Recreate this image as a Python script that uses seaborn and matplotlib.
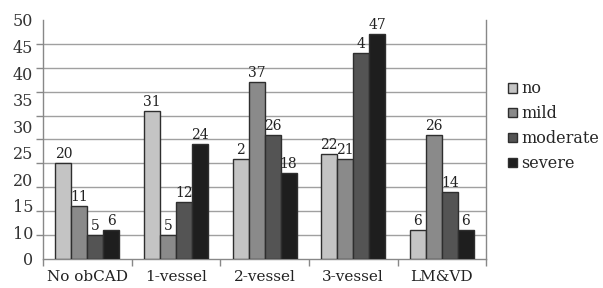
import numpy as np
import pandas as pd
import matplotlib
matplotlib.use("Agg")
import matplotlib.pyplot as plt
import seaborn as sns

categories = ["No obCAD", "1-vessel", "2-vessel", "3-vessel", "LM&VD"]
series = ["no", "mild", "moderate", "severe"]
no_vals = [20, 31, 21, 22, 6]
mild_vals = [11, 5, 37, 21, 26]
moderate_vals = [5, 12, 26, 43, 14]
severe_vals = [6, 24, 18, 47, 6]
# bar labels as printed in the picture (some are cut off there)
no_labels = ["20", "31", "2", "22", "6"]
mild_labels = ["11", "5", "37", "21", "26"]
moderate_labels = ["5", "12", "26", "4", "14"]
severe_labels = ["6", "24", "18", "47", "6"]
ytick_labels = ["0", "10", "15", "20", "25", "30", "35", "40", "45", "50"]

colors = ["#c4c4c4", "#8a8a8a", "#545454", "#1e1e1e"]

df = pd.DataFrame({
    "category": categories * 4,
    "series": np.repeat(series, len(categories)),
    "value": no_vals + mild_vals + moderate_vals + severe_vals,
})
labels = [no_labels, mild_labels, moderate_labels, severe_labels]

sns.set_style("white")
plt.rcParams["font.family"] = ["DejaVu Serif"]

fig = plt.figure(figsize=(6.03, 2.88), dpi=100)
ax = fig.add_axes([0.0713, 0.1007, 0.735, 0.83])

sns.barplot(data=df, x="category", y="value", hue="series", order=categories,
            hue_order=series, palette=colors, width=0.72, edgecolor="#2e2e2e",
            linewidth=1.0, ax=ax, zorder=3)

for cont, labs in zip(ax.containers, labels):
    ax.bar_label(cont, labels=labs, padding=1.5, fontsize=10, color="#222222")

ax.set_ylim(0, 50)
ax.set_xlim(-0.5, len(categories) - 0.5)
ax.set_yticks(np.linspace(0, 50, 10), labels=ytick_labels)
ax.set_yticks(np.arange(0, 51, 5), minor=True)
ax.set_xticks(np.arange(-0.5, len(categories), 1.0), minor=True)
ax.tick_params(axis="y", which="major", length=0, labelsize=11.5, colors="#333333", pad=7)
ax.tick_params(axis="y", which="minor", length=5, width=1, color="#888888", direction="out", left=True)
ax.tick_params(axis="x", which="major", length=0, labelsize=11, colors="#222222", pad=8)
ax.tick_params(axis="x", which="minor", length=5, width=1, color="#888888", direction="out", bottom=True)
ax.grid(False)
ax.grid(axis="y", which="minor", color="#a0a0a0", linewidth=1, zorder=0)
ax.set_axisbelow(True)

for side in ["left", "bottom", "right"]:
    ax.spines[side].set_visible(True)
    ax.spines[side].set_color("#888888")
    ax.spines[side].set_linewidth(1)
ax.spines["top"].set_visible(False)

ax.set_xlabel("")
ax.set_ylabel("")

handles, leg_labels = ax.get_legend_handles_labels()
ax.legend(handles, leg_labels, loc="center left", bbox_to_anchor=(1.035, 0.555),
          frameon=False, fontsize=11.5, handlelength=0.55, handleheight=0.55,
          handletextpad=0.25, labelspacing=0.5, borderaxespad=0)

fig.savefig("out.png", dpi=100)
